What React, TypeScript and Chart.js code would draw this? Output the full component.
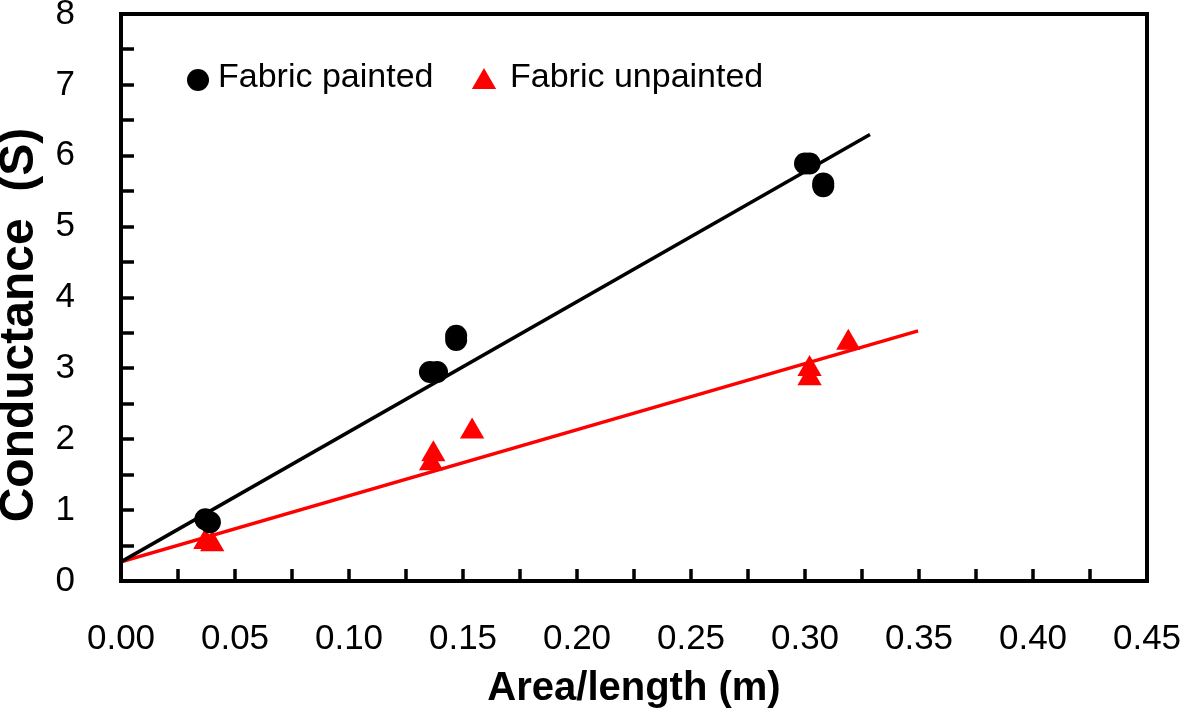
import React, { useEffect, useRef } from 'react';
import { Chart, registerables } from 'chart.js';

Chart.register(...registerables);

// Fabric painted (black circles)
const paintedX = [0.037, 0.039, 0.1355, 0.1386, 0.147, 0.147, 0.300, 0.302, 0.308, 0.308];
const paintedY = [0.87, 0.83, 2.95, 2.95, 3.46, 3.40, 5.89, 5.89, 5.61, 5.57];

// Fabric unpainted (red triangles)
const unpaintedX = [0.037, 0.040, 0.136, 0.137, 0.154, 0.302, 0.302, 0.319];
const unpaintedY = [0.55, 0.52, 1.66, 1.79, 2.11, 2.86, 2.99, 3.36];

// Linear trend lines (start / end)
const paintedTrendX = [0, 0.3285];
const paintedTrendY = [0.27, 6.30];
const unpaintedTrendX = [0, 0.3496];
const unpaintedTrendY = [0.27, 3.53];

const seriesNames = ['Fabric painted', 'Fabric unpainted'];
const xTitle = 'Area/length (m)';
const yTitle = 'Conductance  (S)';
const xMin = 0, xMax = 0.45, xStep = 0.05, xMinorStep = 0.025;
const yMin = 0, yMax = 8, yStep = 1, yMinorStep = 0.5;

const FONT = "'Liberation Sans', Arial, sans-serif";

const toPts = (xs: number[], ys: number[]) => xs.map((x, i) => ({ x, y: ys[i] }));

export default function App() {
  const ref = useRef<HTMLCanvasElement>(null);

  useEffect(() => {
    document.body.style.margin = '0';
    const canvas = ref.current!;

    const framePlugin = {
      id: 'frame',
      afterDraw(chart: any) {
        const ctx = chart.ctx;
        const { left, right, top, bottom } = chart.chartArea;
        const xs = chart.scales.x;
        const ys = chart.scales.y;
        ctx.save();
        ctx.strokeStyle = '#000';
        // minor/major ticks, pointing inward
        ctx.lineWidth = 3.5;
        ctx.beginPath();
        for (let v = xMin + xMinorStep; v < xMax - 1e-9; v += xMinorStep) {
          const px = Math.round(xs.getPixelForValue(v));
          ctx.moveTo(px, bottom);
          ctx.lineTo(px, bottom - 12);
        }
        for (let v = yMin + yMinorStep; v < yMax - 1e-9; v += yMinorStep) {
          const py = Math.round(ys.getPixelForValue(v));
          ctx.moveTo(left, py);
          ctx.lineTo(left + 13, py);
        }
        ctx.stroke();
        // box
        ctx.lineWidth = 4;
        ctx.strokeRect(left, top, right - left, bottom - top);

        // legend inside plot area
        ctx.fillStyle = '#000';
        ctx.beginPath();
        ctx.arc(198, 80, 11, 0, Math.PI * 2);
        ctx.fill();
        ctx.font = `34px ${FONT}`;
        ctx.textBaseline = 'middle';
        ctx.textAlign = 'left';
        ctx.fillText(seriesNames[0], 218, 78);
        ctx.fillStyle = '#ff0000';
        const tx = 484, ty = 82, r = 14;
        ctx.beginPath();
        ctx.moveTo(tx, ty - r);
        ctx.lineTo(tx + r * Math.sin((2 * Math.PI) / 3), ty + r / 2);
        ctx.lineTo(tx - r * Math.sin((2 * Math.PI) / 3), ty + r / 2);
        ctx.closePath();
        ctx.fill();
        ctx.fillStyle = '#000';
        ctx.fillText(seriesNames[1], 510, 78);

        // y axis title
        ctx.save();
        ctx.translate(20, 325);
        ctx.rotate(-Math.PI / 2);
        ctx.font = `bold 48px ${FONT}`;
        ctx.textAlign = 'center';
        ctx.textBaseline = 'middle';
        ctx.fillText(yTitle, 0, 0);
        ctx.restore();
        ctx.restore();
      },
    };

    const zeroPad = (s: any) => {
      s.paddingTop = 0;
      s.paddingBottom = 0;
      s.paddingLeft = 0;
      s.paddingRight = 0;
    };

    const chart = new Chart(canvas, {
      type: 'scatter',
      data: {
        datasets: [
          {
            label: seriesNames[0],
            data: toPts(paintedX, paintedY),
            pointStyle: 'circle',
            pointRadius: 11,
            backgroundColor: '#000',
            borderColor: '#000',
            borderWidth: 0,
          },
          {
            label: seriesNames[1],
            data: toPts(unpaintedX, unpaintedY),
            pointStyle: 'triangle',
            pointRadius: 14,
            backgroundColor: '#ff0000',
            borderColor: '#ff0000',
            borderWidth: 0,
          },
          {
            type: 'line',
            label: 'painted trend',
            data: toPts(paintedTrendX, paintedTrendY),
            showLine: true,
            pointRadius: 0,
            borderColor: '#000',
            borderWidth: 3.5,
          } as any,
          {
            type: 'line',
            label: 'unpainted trend',
            data: toPts(unpaintedTrendX, unpaintedTrendY),
            showLine: true,
            pointRadius: 0,
            borderColor: '#ff0000',
            borderWidth: 3.5,
          } as any,
        ],
      },
      options: {
        responsive: false,
        animation: false,
        layout: { padding: { top: 14, right: 34, left: 0, bottom: 0 } },
        plugins: {
          legend: { display: false },
          tooltip: { enabled: false },
        },
        scales: {
          x: {
            type: 'linear',
            min: xMin,
            max: xMax,
            grid: { display: false },
            border: { display: false },
            ticks: {
              stepSize: xStep,
              padding: 29,
              color: '#000',
              font: { family: FONT, size: 35 },
              maxRotation: 0,
              callback: (v: any) => Number(v).toFixed(2),
            },
            title: {
              display: true,
              text: xTitle,
              color: '#000',
              font: { family: FONT, size: 40, weight: 'bold' },
              padding: { top: 0, bottom: 0 },
            },
            afterFit: (s: any) => {
              s.height = 132;
              zeroPad(s);
            },
          },
          y: {
            type: 'linear',
            min: yMin,
            max: yMax,
            grid: { display: false },
            border: { display: false },
            ticks: {
              stepSize: yStep,
              padding: 38,
              color: '#000',
              font: { family: FONT, size: 35 },
            },
            afterFit: (s: any) => {
              s.width = 121;
              zeroPad(s);
            },
          },
        },
      },
      plugins: [framePlugin],
    } as any);

    return () => chart.destroy();
  }, []);

  return <canvas ref={ref} width={1181} height={713} style={{ display: 'block' }} />;
}
